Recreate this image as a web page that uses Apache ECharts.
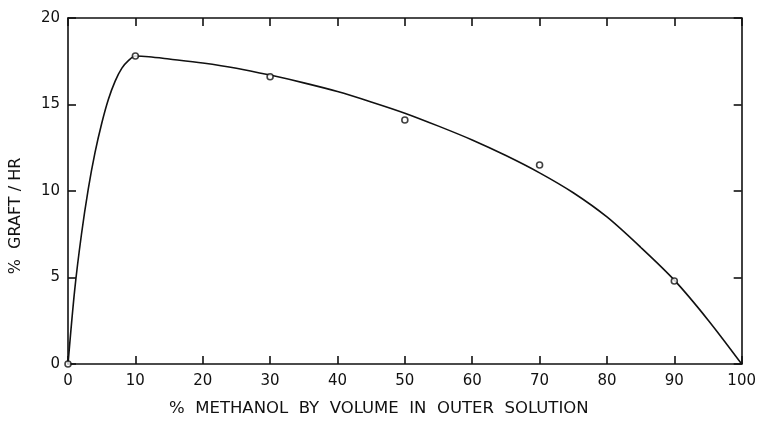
<!DOCTYPE html>
<html>
<head>
<meta charset="utf-8">
<script src="https://cdn.jsdelivr.net/npm/echarts@6/dist/echarts.min.js"></script>
<style>
  html, body { margin: 0; padding: 0; background: #ffffff; }
  #chart { width: 759px; height: 422px; }
</style>
</head>
<body>
<div id="chart"></div>
<script>
// Measured grafting rate at each methanol content
const methanolPct = [0, 10, 30, 50, 70, 90];
const graftRate = [0, 17.8, 16.6, 14.1, 11.5, 4.8];

// Hand-drawn fitted curve through the measurements
const curveX = [0, 1, 2, 3, 4, 5, 6, 7, 8, 9, 10, 12, 15, 20, 25, 30, 35, 40, 45, 50, 55, 60, 65, 70, 75, 80, 85, 90, 95, 100];
const curveY = [0, 4.3, 7.5, 10.1, 12.2, 13.9, 15.3, 16.35, 17.1, 17.55, 17.8, 17.76, 17.63, 17.4, 17.1, 16.7, 16.25, 15.75, 15.15, 14.5, 13.75, 12.95, 12.05, 11.05, 9.9, 8.5, 6.75, 4.85, 2.55, 0];

const xTicks = [0, 10, 20, 30, 40, 50, 60, 70, 80, 90, 100];
const yTicks = [0, 5, 10, 15, 20];

const ink = '#111111';
const labelFont = { color: ink, fontSize: 15, fontFamily: 'DejaVu Sans' };

const chart = echarts.init(document.getElementById('chart'), null, { renderer: 'canvas' });

function frameAxis(extra) {
  return Object.assign({
    type: 'value',
    axisLine: { show: true, onZero: false, lineStyle: { color: ink, width: 1.6 } },
    axisTick: { show: true, inside: true, length: 8, lineStyle: { color: ink, width: 1.6 } },
    splitLine: { show: false }
  }, extra);
}

chart.setOption({
  animation: false,
  backgroundColor: '#ffffff',
  grid: { left: 67, right: 13, top: 18, bottom: 56, containLabel: false },
  xAxis: [
    frameAxis({
      position: 'bottom', min: xTicks[0], max: xTicks[xTicks.length - 1], interval: 10,
      axisLabel: Object.assign({ margin: 10 }, labelFont),
      name: '%  METHANOL  BY  VOLUME  IN  OUTER  SOLUTION',
      nameLocation: 'middle', nameGap: 36,
      nameTextStyle: { color: ink, fontSize: 16.5, fontFamily: 'DejaVu Sans', padding: [0, 52, 0, 0] }
    }),
    frameAxis({
      position: 'top', min: xTicks[0], max: xTicks[xTicks.length - 1], interval: 10,
      axisLabel: { show: false }
    })
  ],
  yAxis: [
    frameAxis({
      position: 'left', min: yTicks[0], max: yTicks[yTicks.length - 1], interval: 5,
      axisLabel: Object.assign({ margin: 8 }, labelFont),
      name: '%  GRAFT / HR',
      nameLocation: 'middle', nameGap: 44, nameRotate: 90,
      nameTextStyle: { color: ink, fontSize: 16, fontFamily: 'DejaVu Sans', padding: [0, 50, 0, 0] }
    }),
    frameAxis({
      position: 'right', min: yTicks[0], max: yTicks[yTicks.length - 1], interval: 5,
      axisLabel: { show: false }
    })
  ],
  series: [
    {
      type: 'line',
      data: curveX.map((x, i) => [x, curveY[i]]),
      smooth: 0.3,
      showSymbol: false,
      lineStyle: { color: ink, width: 1.6 },
      z: 2
    },
    {
      type: 'scatter',
      data: methanolPct.map((x, i) => [x, graftRate[i]]),
      symbol: 'circle',
      symbolSize: 6,
      itemStyle: { color: '#ffffff', borderColor: ink, borderWidth: 1.6 },
      z: 3
    }
  ]
});
</script>
</body>
</html>
